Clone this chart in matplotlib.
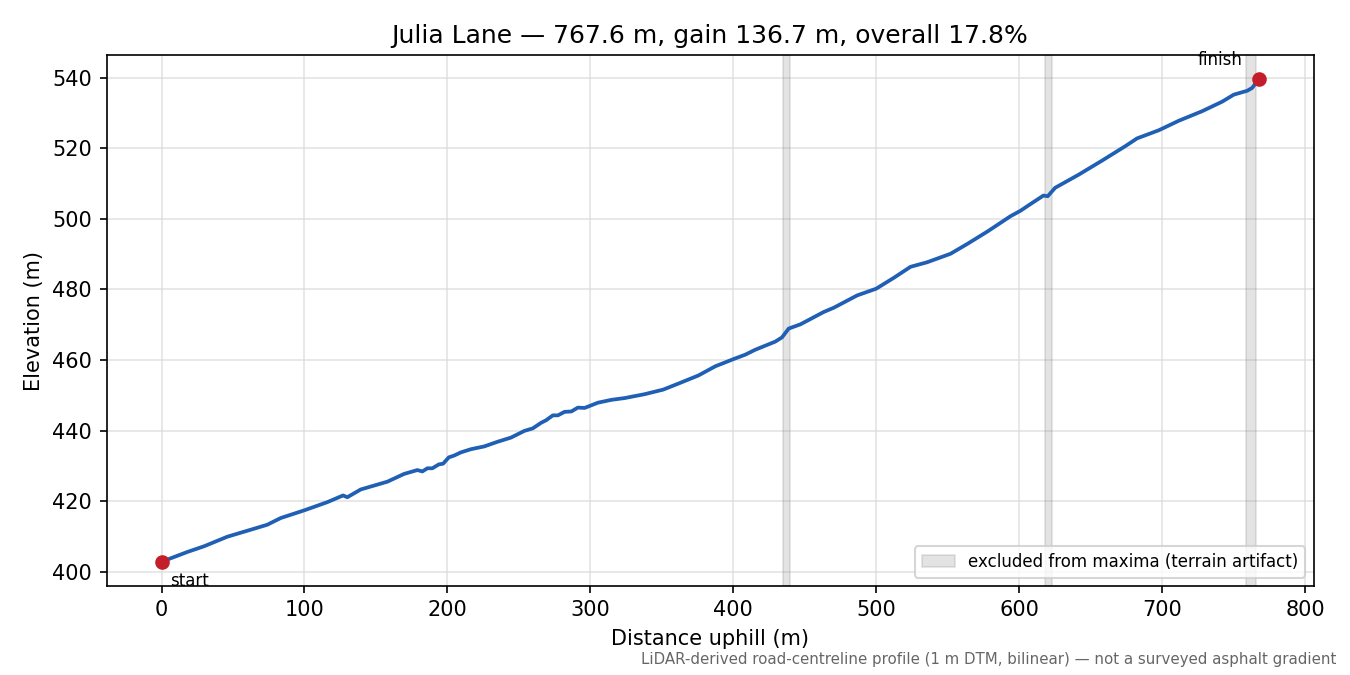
import matplotlib
matplotlib.use('Agg')

import matplotlib.pyplot as plt

# profile (distance m, elevation m)
dist = [0, 18.2, 29.8, 46, 65, 74, 83.4, 100, 116, 127, 130, 139.4, 158, 169.7,
        179, 182.5, 186, 189.5, 194, 197, 201, 204.7, 209.4, 216.4, 225.8, 235,
        244.5, 253.9, 259.7, 265.6, 269, 273.8, 277.3, 282, 286.7, 291.3, 296,
        305.4, 314.8, 324, 338, 351, 361.6, 375.6, 387.4, 400.5, 408.4, 415.4,
        429.4, 434.1, 438.8, 447, 463.3, 470.3, 486.7, 500, 512.4, 524, 535.7,
        552, 563.8, 577.8, 594.2, 601, 606.5, 617, 620, 625.2, 641.6, 658,
        674.3, 682.5, 697.7, 711.7, 728, 742, 750.2, 759.6, 763, 767.6]
elev = [402.8, 405.6, 407.2, 409.9, 412.2, 413.3, 415.2, 417.4, 419.7, 421.6,
        421.1, 423.3, 425.5, 427.7, 428.8, 428.4, 429.3, 429.3, 430.4, 430.6,
        432.4, 432.9, 433.8, 434.7, 435.5, 436.8, 438.0, 439.9, 440.6, 442.2,
        442.9, 444.3, 444.3, 445.3, 445.4, 446.5, 446.4, 447.9, 448.7, 449.2,
        450.3, 451.6, 453.3, 455.6, 458.2, 460.3, 461.5, 462.9, 465.2, 466.4,
        468.9, 470.1, 473.6, 474.8, 478.3, 480.2, 483.3, 486.4, 487.7, 490.1,
        492.9, 496.4, 500.8, 502.3, 503.8, 506.6, 506.4, 508.8, 512.5, 516.5,
        520.6, 522.8, 525.1, 527.8, 530.5, 533.2, 535.2, 536.3, 537.1, 539.5]

# excluded stretches (terrain artifacts)
excl_start = [434.5, 618.0, 758.5]
excl_end = [439.9, 623.2, 765.4]

fig, ax = plt.subplots(figsize=(9, 4.5), dpi=150)
fig.subplots_adjust(left=0.079, right=0.973, top=0.918, bottom=0.132)

for i, (a, b) in enumerate(zip(excl_start, excl_end)):
    ax.axvspan(a, b, color='grey', alpha=0.22, lw=0.8,
               label="excluded from maxima (terrain artifact)" if i == 0 else None)

ax.plot(dist, elev, color="#1f5fb4", lw=1.8)
ax.plot([dist[0], dist[-1]], [elev[0], elev[-1]], 'o', color="#c41e2a", ms=6, zorder=5)

ax.annotate("start", (dist[0], elev[0]), xytext=(4, -5), textcoords='offset points',
            ha='left', va='top', fontsize=8)
ax.annotate("finish", (dist[-1], elev[-1]), xytext=(-8, 5), textcoords='offset points',
            ha='right', va='bottom', fontsize=8)

ax.grid(True, color='0.85', lw=0.8, alpha=0.7)
ax.set_axisbelow(True)
ax.set_xlabel("Distance uphill (m)")
ax.set_ylabel("Elevation (m)")
ax.set_title("Julia Lane \u2014 767.6 m, gain 136.7 m, overall 17.8%")
ax.legend(loc="lower right", fontsize=8)

fig.text(0.99, 0.012, "LiDAR-derived road-centreline profile (1 m DTM, bilinear) \u2014 not a surveyed asphalt gradient",
         ha='right', va='bottom', fontsize=7.2, color='0.4')

plt.savefig("out.png", dpi=150)
